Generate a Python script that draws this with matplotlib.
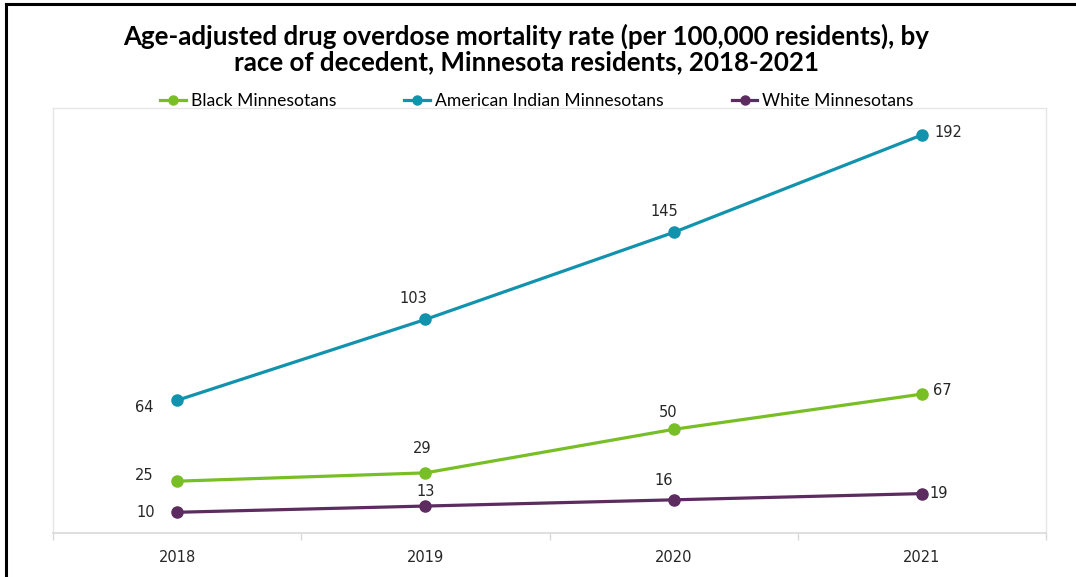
import matplotlib
matplotlib.use("Agg")
import matplotlib.pyplot as plt
from matplotlib.lines import Line2D

years = ["2018", "2019", "2020", "2021"]
black = [25, 29, 50, 67]
american_indian = [64, 103, 145, 192]
white = [10, 13, 16, 19]

series_names = ["Black Minnesotans", "American Indian Minnesotans", "White Minnesotans"]
series_values = [black, american_indian, white]
colors = ["#78bf26", "#1193ad", "#5c2b5f"]

# label offsets in pixels (dx, dy) relative to each point
label_offsets = [
    [(-33, 6), (-3, 24), (-5, 17), (20, 4)],
    [(-33, -7), (-12, 21), (-9, 21), (27, 2)],
    [(-31, 0), (0, 15), (-10, 19), (17, 0)],
]

W, H = 1076, 577
fig = plt.figure(figsize=(W / 100, H / 100), dpi=100)

left, right, bottom, top = 53, 1046, 533, 108
ax = fig.add_axes([left / W, 1 - bottom / H, (right - left) / W, (bottom - top) / H])

x = list(range(len(years)))
for name, vals, c, offs in zip(series_names, series_values, colors, label_offsets):
    ax.plot(x, vals, color=c, lw=2.3, marker="o", ms=8, label=name, solid_capstyle="round")
    for xi, v, (dx, dy) in zip(x, vals, offs):
        ax.annotate(str(v), (xi, v), xytext=(dx * 0.72, dy * 0.72), textcoords="offset points",
                    ha="center", va="center", fontsize=10.5, color="#262626",
                    family="DejaVu Sans")

ax.set_xlim(-0.5, len(years) - 0.5)
ax.set_ylim(0, 205)
ax.set_yticks([])
ax.set_xticks(x)
ax.set_xticklabels(years, fontsize=10.5, color="#262626", family="DejaVu Sans")
ax.set_xticks([i - 0.5 for i in range(len(years) + 1)], minor=True)
ax.tick_params(axis="x", which="major", length=0, pad=12)
ax.tick_params(axis="x", which="minor", length=5, color="#d9d9d9", width=1)
for s in ["left", "right", "top"]:
    ax.spines[s].set_color("#e6e6e6")
    ax.spines[s].set_linewidth(1)
ax.spines["bottom"].set_color("#d9d9d9")
ax.spines["bottom"].set_linewidth(1.2)

fig.text(526 / W, 1 - 48.5 / H,
         "Age-adjusted drug overdose mortality rate (per 100,000 residents), by\nrace of decedent, Minnesota residents, 2018-2021",
         ha="center", va="center", fontsize=18.6, fontweight="bold", family="Lato",
         linespacing=1.05, color="#000000")

handles = [Line2D([0], [0], color=c, lw=2.3, marker="o", ms=6.5) for c in colors]
fig.legend(handles, series_names, loc="center", bbox_to_anchor=(537 / W, 1 - 101 / H),
           ncol=3, frameon=False, prop={"family": "Lato", "size": 12.6},
           handlelength=1.45, handletextpad=0.3, columnspacing=3.9)

# outer border (left and top visible)
fig.add_artist(Line2D([6 / W, 6 / W], [0, 1 - 4 / H], color="black", lw=2.2, transform=fig.transFigure))
fig.add_artist(Line2D([6 / W, 1], [1 - 4 / H, 1 - 4 / H], color="black", lw=2.2, transform=fig.transFigure))

fig.savefig("out.png", dpi=100)
